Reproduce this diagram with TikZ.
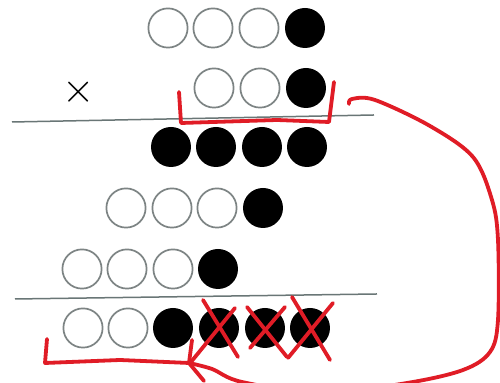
\documentclass[tikz,border=0pt]{standalone}
\usetikzlibrary{calc}
\definecolor{penred}{RGB}{224,28,38}
\definecolor{ringgray}{RGB}{125,132,132}
\definecolor{rulegray}{RGB}{105,118,118}
\tikzset{
  ring/.style={circle,draw=ringgray,line width=0.85pt,minimum size=19.6pt,inner sep=0pt},
  dot/.style={circle,fill=black,minimum size=20pt,inner sep=0pt},
  redpen/.style={draw=penred,line width=1.9pt,line cap=round,line join=round},
  rulestyle/.style={draw=rulegray,line width=0.75pt}
}
\begin{document}
\begin{tikzpicture}[x=0.5pt,y=-0.5pt]
\useasboundingbox (0,0) rectangle (500,383);
\clip (0,0) rectangle (500,383);
\fill[white] (0,0) rectangle (500,383);
% row 1
\node[ring] (a1) at (168,28) {};
\node[ring] (a2) at (213,28) {};
\node[ring] (a3) at (259,28) {};
\node[dot]  (a4) at (305,28) {};
% row 2
\node (times) at (79,92) {\fontsize{21}{21}\selectfont$\times$};
\node[ring] (b1) at (214,88) {};
\node[ring] (b2) at (260,88) {};
\node[dot]  (b3) at (306,88) {};
% rule 1
\coordinate (r1a) at (12,122);
\coordinate (r1b) at (374,115);
\draw[rulestyle] (r1a) -- (r1b);
% row 3
\node[dot] (c1) at (171,147) {};
\node[dot] (c2) at (216,147) {};
\node[dot] (c3) at (262,147) {};
\node[dot] (c4) at (307,147) {};
% row 4
\node[ring] (d1) at (126,208) {};
\node[ring] (d2) at (172,208) {};
\node[ring] (d3) at (217,208) {};
\node[dot]  (d4) at (263,208) {};
% row 5
\node[ring] (e1) at (82,269) {};
\node[ring] (e2) at (127,269) {};
\node[ring] (e3) at (173,269) {};
\node[dot]  (e4) at (218,269) {};
% rule 2
\coordinate (r2a) at (15,299);
\coordinate (r2b) at (377,294);
\draw[rulestyle] (r2a) -- (r2b);
% row 6
\node[ring] (f1) at (83,328) {};
\node[ring] (f2) at (128,328) {};
\node[dot]  (f3) at (173,328) {};
\node[dot]  (f4) at (219,328) {};
\node[dot]  (f5) at (265,328) {};
\node[dot]  (f6) at (310,328) {};
% top red bracket
\coordinate (tb1) at (179,92);
\coordinate (tb2) at (181,123);
\coordinate (tb3) at (277,120);
\coordinate (tb4) at (329,122);
\coordinate (tb5) at (334,82);
\draw[redpen] (tb1) -- (tb2) -- (tb3) -- (tb4) -- (tb5);
% crosses
\coordinate (x4a) at (203,300); \coordinate (x4b) at (238,357);
\coordinate (x4c) at (235,308); \coordinate (x4d) at (191,362);
\coordinate (x5a) at (247,307); \coordinate (x5b) at (287,357);
\coordinate (x5c) at (285,307); \coordinate (x5d) at (250,348);
\coordinate (x6a) at (292,297); \coordinate (x6b) at (330,360);
\coordinate (x6c) at (333,303); \coordinate (x6d) at (288,358);
\draw[redpen] (x4a) -- (x4b);
\draw[redpen] (x4c) -- (x4d);
\draw[redpen] (x5a) -- (x5b);
\draw[redpen] (x5c) -- (x5d);
\draw[redpen] (x6a) -- (x6b);
\draw[redpen] (x6c) -- (x6d);
% bottom-left bracket
\coordinate (lb1) at (47,339);
\coordinate (lb2) at (45,363);
\coordinate (lb3) at (120,360);
\coordinate (tip) at (189,363);
\draw[redpen] (lb1) -- (lb2) -- (lb3) -- (tip);
% big arrow curve
\coordinate (s) at (349,104);
\draw[redpen] plot[smooth,tension=0.55] coordinates {
  (s) (352,99) (375,100) (430,126) (473,157) (492,200) (498,240)
  (498,320) (490,352) (463,370) (407,383) (322,393) (242,382) (212,369) (tip)};
% arrowhead arms
\coordinate (armu) at (192,340);
\coordinate (armd) at (204,381);
\draw[redpen] (armu) -- (tip) -- (armd);
\end{tikzpicture}
\end{document}
